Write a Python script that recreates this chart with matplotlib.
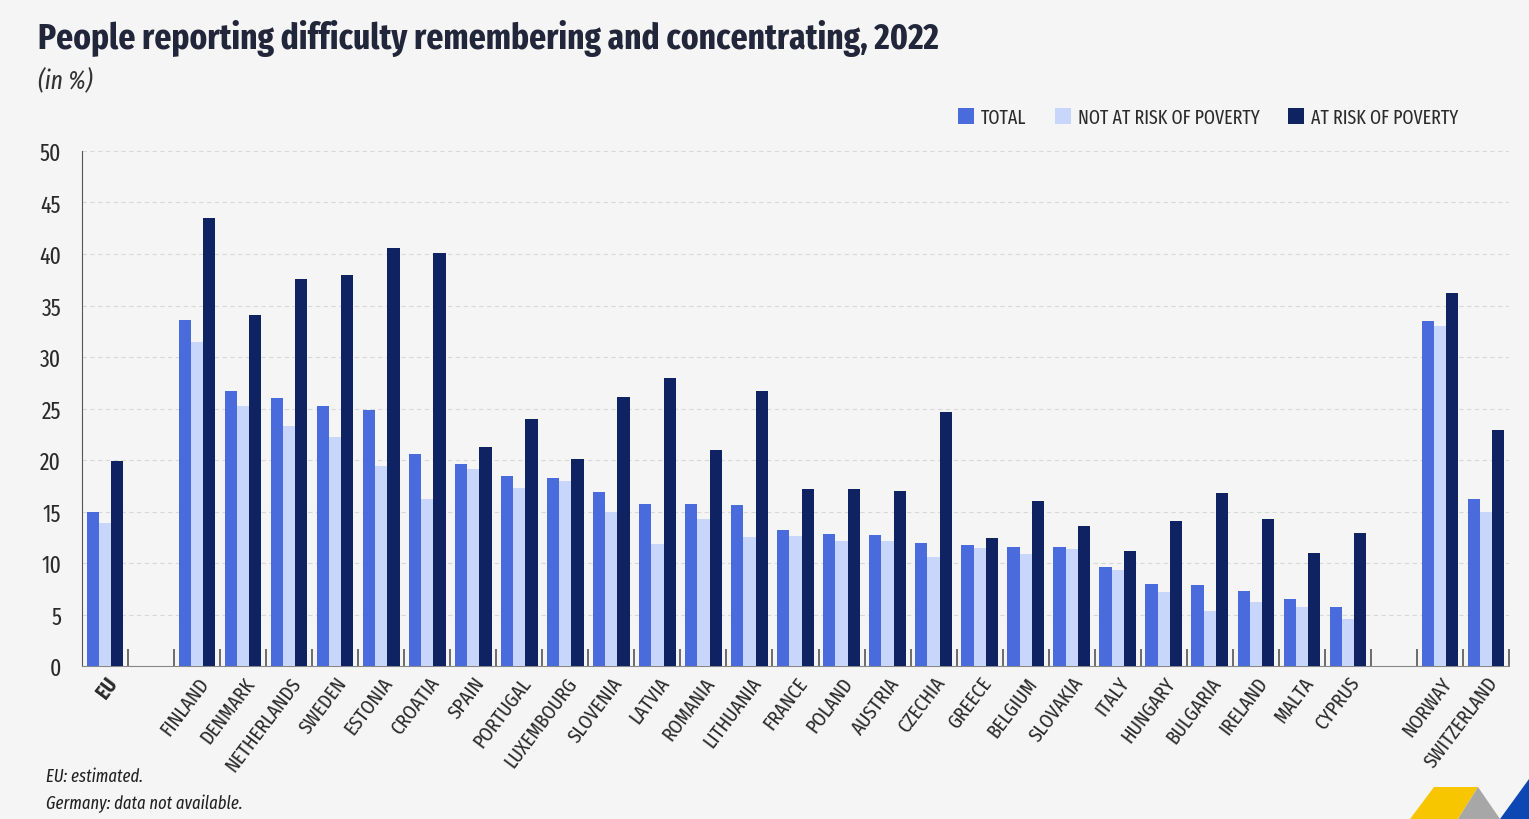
import matplotlib
matplotlib.use("Agg")
import matplotlib.pyplot as plt
import numpy as np
from matplotlib.patches import Patch, Polygon

countries = ["EU", "", "FINLAND", "DENMARK", "NETHERLANDS", "SWEDEN", "ESTONIA", "CROATIA",
             "SPAIN", "PORTUGAL", "LUXEMBOURG", "SLOVENIA", "LATVIA", "ROMANIA", "LITHUANIA",
             "FRANCE", "POLAND", "AUSTRIA", "CZECHIA", "GREECE", "BELGIUM", "SLOVAKIA", "ITALY",
             "HUNGARY", "BULGARIA", "IRELAND", "MALTA", "CYPRUS", "", "NORWAY", "SWITZERLAND"]
total = [15.0, None, 33.6, 26.7, 26.0, 25.2, 24.9, 20.6, 19.6, 18.4, 18.3, 16.9, 15.7, 15.7, 15.6,
         13.2, 12.8, 12.7, 11.9, 11.7, 11.6, 11.6, 9.6, 8.0, 7.9, 7.3, 6.5, 5.7, None, 33.5, 16.2]
not_at_risk = [13.9, None, 31.5, 25.2, 23.3, 22.2, 19.4, 16.2, 19.1, 17.3, 18.0, 15.0, 11.8, 14.3, 12.5,
               12.6, 12.1, 12.1, 10.6, 11.5, 10.9, 11.4, 9.3, 7.2, 5.3, 6.2, 5.7, 4.6, None, 33.0, 15.0]
at_risk = [19.9, None, 43.5, 34.1, 37.6, 38.0, 40.6, 40.1, 21.3, 24.0, 20.1, 26.1, 28.0, 21.0, 26.7,
           17.2, 17.2, 17.0, 24.7, 12.4, 16.0, 13.6, 11.2, 14.1, 16.8, 14.3, 11.0, 12.9, None, 36.2, 22.9]
series_names = ["TOTAL", "NOT AT RISK OF POVERTY", "AT RISK OF POVERTY"]
colors = ["#4a6bdc", "#c9d6fb", "#0f2261"]

BG = "#f5f5f5"
FONT = ["Fira Sans Extra Condensed", "Fira Sans Condensed", "DejaVu Sans"]
plt.rcParams["font.family"] = FONT

W, H = 1529, 820
fig = plt.figure(figsize=(W/100, H/100), dpi=100, facecolor=BG)
ax = fig.add_axes([82/W, 1-667/H, (1509-82)/W, (667-152)/H])
ax.set_facecolor(BG)

x = np.arange(len(countries))
bw = 0.265
for k, (vals, col) in enumerate(zip([total, not_at_risk, at_risk], colors)):
    xs = [xi + (k-1)*bw for xi, v in zip(x, vals) if v is not None]
    vs = [v for v in vals if v is not None]
    ax.bar(xs, vs, width=bw, color=col, zorder=3, linewidth=0)

ax.set_xlim(-0.5, len(countries)-0.5)
ax.set_ylim(0, 50)
ax.set_yticks(np.arange(0, 51, 5))
ax.yaxis.grid(True, linestyle=(0, (4, 3)), color="#d8d8d8", linewidth=0.8, zorder=0)
ax.tick_params(axis="y", length=0, pad=15, labelsize=17, labelcolor="#2b2b2b")

ax.set_xticks(np.arange(0.5, len(countries), 1.0), minor=True)
ax.set_xticks(x)
ax.tick_params(axis="x", which="major", length=0, pad=5)
ax.tick_params(axis="x", which="minor", direction="in", length=12, width=1.2, color="#555555")
ax.set_xticklabels(countries, rotation=53, ha="right", va="top", rotation_mode="anchor",
                   fontsize=15, color="#2b2b2b")
for lab in ax.get_xticklabels():
    if lab.get_text() == "EU":
        lab.set_fontweight("bold")

for s in ["top", "right"]:
    ax.spines[s].set_visible(False)
ax.spines["left"].set_color("#555555")
ax.spines["bottom"].set_color("#888888")

title = fig.text(38/W, 1-38/H, "People reporting difficulty remembering and concentrating, 2022",
                 fontsize=28, fontweight="bold", color="#22263a", va="center", ha="left")
fig.canvas.draw()
wpx = title.get_window_extent().width
title.set_fontsize(28 * 900 / wpx)

fig.text(38/W, 1-81/H, "(in %)", fontsize=18.5, style="italic", color="#333333",
         va="center", ha="left")

handles = [Patch(facecolor=c, edgecolor="none") for c in colors]
fig.legend(handles, series_names, loc="center right", bbox_to_anchor=(1476/W, 1-118/H),
           ncol=3, frameon=False, fontsize=14, handlelength=0.85, handleheight=0.85,
           handletextpad=0.35, columnspacing=1.45, labelcolor="#2b2b2b")

fig.text(46/W, 1-777/H, "EU: estimated.", fontsize=13, style="italic", color="#222222",
         va="center", ha="left")
fig.text(46/W, 1-804/H, "Germany: data not available.", fontsize=13, style="italic",
         color="#222222", va="center", ha="left")

def P(pts, col):
    fig.patches.append(Polygon([(px/W, 1-py/H) for px, py in pts], closed=True,
                               transform=fig.transFigure, facecolor=col, edgecolor="none"))
P([(1434, 788), (1478, 788), (1458, 820), (1410, 820)], "#f7c600")
P([(1478, 788), (1500, 820), (1458, 820)], "#a7a7a7")
P([(1529, 780), (1529, 820), (1500, 820)], "#0d47b4")

fig.savefig("out.png", dpi=100, facecolor=BG)
